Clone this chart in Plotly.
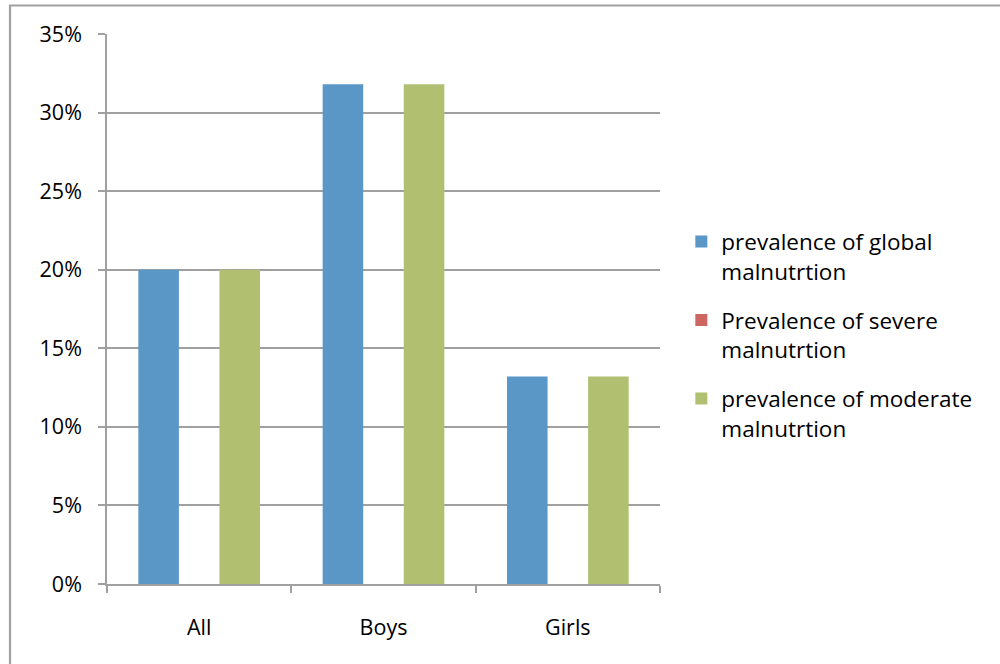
import plotly.graph_objects as go

categories = ["All", "Boys", "Girls"]
series_names = [
    "prevalence of global<br>malnutrtion",
    "Prevalence of severe<br>malnutrtion",
    "prevalence of moderate<br>malnutrtion",
]
global_vals = [0.20, 0.318, 0.132]
severe_vals = [0.0, 0.0, 0.0]
moderate_vals = [0.20, 0.318, 0.132]
colors = ["#5A96C6", "#CD6660", "#B0C070"]
y_ticks = [0, 0.05, 0.10, 0.15, 0.20, 0.25, 0.30, 0.35]
y_tick_labels = ["0%", "5%", "10%", "15%", "20%", "25%", "30%", "35%"]

FONT = "'Open Sans', sans-serif"
GRID = "#A0A0A0"

fig = go.Figure()
for i, (name, vals) in enumerate(zip(series_names, [global_vals, severe_vals, moderate_vals])):
    fig.add_trace(go.Bar(
        x=categories, y=vals, name=name,
        marker=dict(color=colors[i], line=dict(color=colors[i], width=0)),
        legendgroup=f"g{i}",
    ))

fig.update_layout(
    width=1000, height=664,
    margin=dict(l=107, r=340, t=34, b=80),
    paper_bgcolor="white", plot_bgcolor="white",
    barmode="group", bargap=0.34, bargroupgap=0,
    font=dict(family=FONT, size=21.5, color="#000000"),
    legend=dict(
        x=1.044 - 3 / 553, y=0.453, xanchor="left", yanchor="middle",
        font=dict(size=22.5, family=FONT, color="#000000"),
        tracegroupgap=17, itemwidth=30, valign="top",
    ),
    shapes=[dict(
        type="rect", xref="paper", yref="paper",
        x0=(10 - 107) / 553, x1=(1010 - 107) / 553,
        y0=(584 - 670) / 550, y1=(584 - 5.5) / 550,
        line=dict(color="#A0A0A0", width=2.2), fillcolor="rgba(0,0,0,0)",
        layer="below",
    )],
)
fig.update_xaxes(
    showline=True, linecolor=GRID, linewidth=1.5,
    ticks="outside", ticklen=7, tickcolor=GRID, tickwidth=1.5,
    tickson="boundaries", showgrid=False,
    ticklabelstandoff=23,
)
fig.update_yaxes(
    range=[0, 0.35], tickvals=y_ticks, ticktext=y_tick_labels,
    showline=True, linecolor=GRID, linewidth=1.5,
    ticks="outside", ticklen=7, tickcolor=GRID, tickwidth=1.5,
    showgrid=True, gridcolor=GRID, gridwidth=1.5,
    zeroline=False, ticklabelstandoff=12,
)
fig.write_html("out.html")
